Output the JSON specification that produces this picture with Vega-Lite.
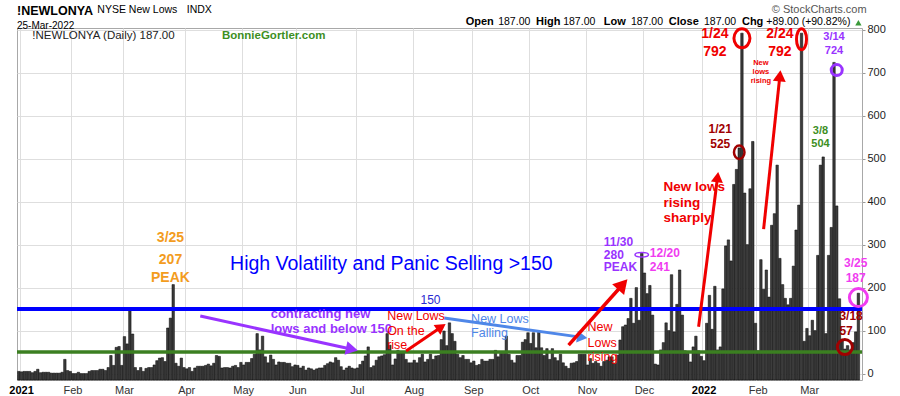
{
"$schema": "https://vega.github.io/schema/vega-lite/v6.json",
"width": 845, "height": 352,
"autosize": {"type": "none"},
"padding": {"left": 17, "top": 28, "right": 38, "bottom": 16},
"background": "white",
"config": {"font": "Liberation Sans", "view": {"stroke": "#a8a8a8", "strokeWidth": 1}},
"title": {"text": "!NEWLONYA", "subtitle": "25-Mar-2022", "anchor": "start", "frame": "group", "fontSize": 12.5, "fontWeight": "bold", "color": "#000", "subtitleFontSize": 10, "subtitleColor": "#000", "subtitlePadding": 3, "offset": -27, "font": "Liberation Sans", "subtitleFont": "Liberation Sans"},
"layer": [
{"data": {"values": [
{"d":"2020-12-31","v":5},
{"d":"2021-01-04","v":4},{"d":"2021-01-05","v":5},{"d":"2021-01-06","v":5},{"d":"2021-01-07","v":5},{"d":"2021-01-08","v":2},{"d":"2021-01-11","v":5},{"d":"2021-01-12","v":10},{"d":"2021-01-13","v":2},{"d":"2021-01-14","v":3},{"d":"2021-01-15","v":3},{"d":"2021-01-19","v":3},{"d":"2021-01-20","v":1},{"d":"2021-01-21","v":1},{"d":"2021-01-22","v":1},{"d":"2021-01-25","v":1},{"d":"2021-01-26","v":3},{"d":"2021-01-27","v":33},{"d":"2021-01-28","v":7},{"d":"2021-01-29","v":5},
{"d":"2021-02-01","v":0},{"d":"2021-02-02","v":0},{"d":"2021-02-03","v":3},{"d":"2021-02-04","v":0},{"d":"2021-02-05","v":0},{"d":"2021-02-08","v":0},{"d":"2021-02-09","v":5},{"d":"2021-02-10","v":7},{"d":"2021-02-11","v":7},{"d":"2021-02-12","v":7},{"d":"2021-02-16","v":10},{"d":"2021-02-17","v":10},{"d":"2021-02-18","v":7},{"d":"2021-02-19","v":14},{"d":"2021-02-22","v":42},{"d":"2021-02-23","v":19},{"d":"2021-02-24","v":61},{"d":"2021-02-25","v":63},{"d":"2021-02-26","v":19},
{"d":"2021-03-01","v":86},{"d":"2021-03-02","v":69},{"d":"2021-03-03","v":148},{"d":"2021-03-04","v":92},{"d":"2021-03-05","v":14},{"d":"2021-03-08","v":7},{"d":"2021-03-09","v":14},{"d":"2021-03-10","v":5},{"d":"2021-03-11","v":12},{"d":"2021-03-12","v":14},{"d":"2021-03-15","v":14},{"d":"2021-03-16","v":20},{"d":"2021-03-17","v":30},{"d":"2021-03-18","v":36},{"d":"2021-03-19","v":37},{"d":"2021-03-22","v":28},{"d":"2021-03-23","v":106},{"d":"2021-03-24","v":129},{"d":"2021-03-25","v":207},{"d":"2021-03-26","v":24},{"d":"2021-03-29","v":17},{"d":"2021-03-30","v":36},{"d":"2021-03-31","v":14},
{"d":"2021-04-01","v":11},{"d":"2021-04-05","v":14},{"d":"2021-04-06","v":5},{"d":"2021-04-07","v":13},{"d":"2021-04-08","v":17},{"d":"2021-04-09","v":17},{"d":"2021-04-12","v":17},{"d":"2021-04-13","v":19},{"d":"2021-04-14","v":22},{"d":"2021-04-15","v":18},{"d":"2021-04-16","v":24},{"d":"2021-04-19","v":42},{"d":"2021-04-20","v":40},{"d":"2021-04-21","v":13},{"d":"2021-04-22","v":14},{"d":"2021-04-23","v":14},{"d":"2021-04-26","v":13},{"d":"2021-04-27","v":17},{"d":"2021-04-28","v":19},{"d":"2021-04-29","v":14},{"d":"2021-04-30","v":26},
{"d":"2021-05-03","v":20},{"d":"2021-05-04","v":26},{"d":"2021-05-05","v":26},{"d":"2021-05-06","v":35},{"d":"2021-05-07","v":45},{"d":"2021-05-10","v":93},{"d":"2021-05-11","v":55},{"d":"2021-05-12","v":87},{"d":"2021-05-13","v":39},{"d":"2021-05-14","v":25},{"d":"2021-05-17","v":43},{"d":"2021-05-18","v":33},{"d":"2021-05-19","v":20},{"d":"2021-05-20","v":27},{"d":"2021-05-21","v":26},{"d":"2021-05-24","v":26},{"d":"2021-05-25","v":24},{"d":"2021-05-26","v":24},{"d":"2021-05-27","v":16},{"d":"2021-05-28","v":20},
{"d":"2021-06-01","v":19},{"d":"2021-06-02","v":13},{"d":"2021-06-03","v":17},{"d":"2021-06-04","v":8},{"d":"2021-06-07","v":13},{"d":"2021-06-08","v":11},{"d":"2021-06-09","v":8},{"d":"2021-06-10","v":11},{"d":"2021-06-11","v":13},{"d":"2021-06-14","v":13},{"d":"2021-06-15","v":19},{"d":"2021-06-16","v":23},{"d":"2021-06-17","v":27},{"d":"2021-06-18","v":25},{"d":"2021-06-21","v":37},{"d":"2021-06-22","v":31},{"d":"2021-06-23","v":16},{"d":"2021-06-24","v":8},{"d":"2021-06-25","v":13},{"d":"2021-06-28","v":17},{"d":"2021-06-29","v":13},{"d":"2021-06-30","v":11},
{"d":"2021-07-01","v":13},{"d":"2021-07-02","v":21},{"d":"2021-07-06","v":29},{"d":"2021-07-07","v":41},{"d":"2021-07-08","v":62},{"d":"2021-07-09","v":14},{"d":"2021-07-12","v":18},{"d":"2021-07-13","v":31},{"d":"2021-07-14","v":39},{"d":"2021-07-15","v":41},{"d":"2021-07-16","v":44},{"d":"2021-07-19","v":93},{"d":"2021-07-20","v":66},{"d":"2021-07-21","v":20},{"d":"2021-07-22","v":34},{"d":"2021-07-23","v":54},{"d":"2021-07-26","v":48},{"d":"2021-07-27","v":48},{"d":"2021-07-28","v":33},{"d":"2021-07-29","v":25},{"d":"2021-07-30","v":25},
{"d":"2021-08-02","v":31},{"d":"2021-08-03","v":25},{"d":"2021-08-04","v":37},{"d":"2021-08-05","v":45},{"d":"2021-08-06","v":27},{"d":"2021-08-09","v":33},{"d":"2021-08-10","v":45},{"d":"2021-08-11","v":33},{"d":"2021-08-12","v":41},{"d":"2021-08-13","v":42},{"d":"2021-08-16","v":79},{"d":"2021-08-17","v":99},{"d":"2021-08-18","v":65},{"d":"2021-08-19","v":118},{"d":"2021-08-20","v":93},{"d":"2021-08-23","v":75},{"d":"2021-08-24","v":45},{"d":"2021-08-25","v":37},{"d":"2021-08-26","v":42},{"d":"2021-08-27","v":33},{"d":"2021-08-30","v":33},{"d":"2021-08-31","v":25},
{"d":"2021-09-01","v":29},{"d":"2021-09-02","v":19},{"d":"2021-09-03","v":21},{"d":"2021-09-07","v":33},{"d":"2021-09-08","v":29},{"d":"2021-09-09","v":29},{"d":"2021-09-10","v":33},{"d":"2021-09-13","v":33},{"d":"2021-09-14","v":54},{"d":"2021-09-15","v":39},{"d":"2021-09-16","v":47},{"d":"2021-09-17","v":47},{"d":"2021-09-20","v":87},{"d":"2021-09-21","v":45},{"d":"2021-09-22","v":31},{"d":"2021-09-23","v":25},{"d":"2021-09-24","v":42},{"d":"2021-09-27","v":42},{"d":"2021-09-28","v":73},{"d":"2021-09-29","v":79},{"d":"2021-09-30","v":95},
{"d":"2021-10-01","v":70},{"d":"2021-10-04","v":95},{"d":"2021-10-05","v":60},{"d":"2021-10-06","v":96},{"d":"2021-10-07","v":60},{"d":"2021-10-08","v":42},{"d":"2021-10-11","v":58},{"d":"2021-10-12","v":33},{"d":"2021-10-13","v":58},{"d":"2021-10-14","v":37},{"d":"2021-10-15","v":30},{"d":"2021-10-18","v":45},{"d":"2021-10-19","v":25},{"d":"2021-10-20","v":17},{"d":"2021-10-21","v":12},{"d":"2021-10-22","v":24},{"d":"2021-10-25","v":25},{"d":"2021-10-26","v":28},{"d":"2021-10-27","v":45},{"d":"2021-10-28","v":45},{"d":"2021-10-29","v":45},
{"d":"2021-11-01","v":20},{"d":"2021-11-02","v":35},{"d":"2021-11-03","v":24},{"d":"2021-11-04","v":28},{"d":"2021-11-05","v":24},{"d":"2021-11-08","v":17},{"d":"2021-11-09","v":28},{"d":"2021-11-10","v":31},{"d":"2021-11-11","v":39},{"d":"2021-11-12","v":39},{"d":"2021-11-15","v":24},{"d":"2021-11-16","v":43},{"d":"2021-11-17","v":78},{"d":"2021-11-18","v":109},{"d":"2021-11-19","v":113},{"d":"2021-11-22","v":128},{"d":"2021-11-23","v":175},{"d":"2021-11-24","v":117},{"d":"2021-11-26","v":200},{"d":"2021-11-29","v":124},{"d":"2021-11-30","v":280},
{"d":"2021-12-01","v":234},{"d":"2021-12-02","v":186},{"d":"2021-12-03","v":205},{"d":"2021-12-06","v":136},{"d":"2021-12-07","v":22},{"d":"2021-12-08","v":20},{"d":"2021-12-09","v":55},{"d":"2021-12-10","v":72},{"d":"2021-12-13","v":118},{"d":"2021-12-14","v":100},{"d":"2021-12-15","v":230},{"d":"2021-12-16","v":97},{"d":"2021-12-17","v":161},{"d":"2021-12-20","v":241},{"d":"2021-12-21","v":136},{"d":"2021-12-22","v":53},{"d":"2021-12-23","v":47},{"d":"2021-12-27","v":27},{"d":"2021-12-28","v":62},{"d":"2021-12-29","v":87},{"d":"2021-12-30","v":53},{"d":"2021-12-31","v":40},
{"d":"2022-01-03","v":30},{"d":"2022-01-04","v":117},{"d":"2022-01-05","v":182},{"d":"2022-01-06","v":103},{"d":"2022-01-07","v":203},{"d":"2022-01-10","v":55},{"d":"2022-01-11","v":62},{"d":"2022-01-12","v":197},{"d":"2022-01-13","v":297},{"d":"2022-01-14","v":311},{"d":"2022-01-18","v":262},{"d":"2022-01-19","v":440},{"d":"2022-01-20","v":475},{"d":"2022-01-21","v":525},{"d":"2022-01-24","v":792},{"d":"2022-01-25","v":420},{"d":"2022-01-26","v":300},{"d":"2022-01-27","v":430},{"d":"2022-01-28","v":540},{"d":"2022-01-31","v":117},
{"d":"2022-02-01","v":53},{"d":"2022-02-02","v":265},{"d":"2022-02-03","v":196},{"d":"2022-02-04","v":241},{"d":"2022-02-07","v":178},{"d":"2022-02-08","v":345},{"d":"2022-02-09","v":372},{"d":"2022-02-10","v":485},{"d":"2022-02-11","v":268},{"d":"2022-02-14","v":207},{"d":"2022-02-15","v":175},{"d":"2022-02-16","v":160},{"d":"2022-02-17","v":175},{"d":"2022-02-18","v":250},{"d":"2022-02-22","v":334},{"d":"2022-02-23","v":392},{"d":"2022-02-24","v":792},{"d":"2022-02-25","v":75},{"d":"2022-02-28","v":105},
{"d":"2022-03-01","v":88},{"d":"2022-03-02","v":124},{"d":"2022-03-03","v":100},{"d":"2022-03-04","v":275},{"d":"2022-03-07","v":485},{"d":"2022-03-08","v":504},{"d":"2022-03-09","v":93},{"d":"2022-03-10","v":275},{"d":"2022-03-11","v":340},{"d":"2022-03-14","v":724},{"d":"2022-03-15","v":390},{"d":"2022-03-16","v":174},{"d":"2022-03-17","v":80},{"d":"2022-03-18","v":57},{"d":"2022-03-21","v":65},{"d":"2022-03-22","v":55},{"d":"2022-03-23","v":72},{"d":"2022-03-24","v":97},{"d":"2022-03-25","v":187}
]},
"mark": {"type": "bar", "fill": "#3c3c3c", "stroke": "#000", "strokeWidth": 0.5},
"encoding": {
"x": {"field": "d", "type": "ordinal", "scale": {"paddingInner": 0.1, "paddingOuter": 0.55, "align": 0.2},
 "axis": {"values": ["2021-01-04","2021-02-01","2021-03-01","2021-04-01","2021-05-03","2021-06-01","2021-07-01","2021-08-02","2021-09-01","2021-10-01","2021-11-01","2021-12-01","2022-01-03","2022-02-01","2022-03-01"],
  "labelExpr": "slice(datum.value,5,7)=='01' ? slice(datum.value,0,4) : utcFormat(toDate(datum.value),'%b')",
  "bandPosition": 0, "grid": true, "gridColor": "#dedede", "ticks": false, "tickSize": 0, "domain": false, "labelAngle": 0, "labelFontSize": 11, "labelPadding": 4, "labelOverlap": false,
  "labelColor": {"condition": {"test": "slice(datum.value,5,7)=='01'", "value": "#000"}, "value": "#333"},
  "labelFontWeight": {"condition": {"test": "slice(datum.value,5,7)=='01'", "value": "bold"}, "value": "normal"},
  "title": null}},
"y": {"field": "v", "type": "quantitative", "scale": {"domain": [-15, 804], "nice": false, "zero": false},
 "axis": {"orient": "right", "values": [0,50,100,150,200,250,300,350,400,450,500,550,600,650,700,750,800], "grid": true, "gridColor": "#dedede", "tickSize": 3, "tickColor": "#999", "domain": false, "labelFontSize": 11, "labelColor": "#222", "labelPadding": 2, "title": null}},
"y2": {"datum": -15}
}},
{"data": {"values": [{"y": 150}]}, "mark": {"type": "rule", "color": "#0000ff", "strokeWidth": 4}, "encoding": {"y": {"field": "y", "type": "quantitative"}}},
{"data": {"values": [{"y": 50}]}, "mark": {"type": "rule", "color": "#3b7f21", "strokeWidth": 3.5}, "encoding": {"y": {"field": "y", "type": "quantitative"}}},
{"data": {"values": [{"d1": "2021-04-09", "v1": 133.7, "d2": "2021-06-29", "v2": 56.5}]}, "layer": [
 {"mark": {"type": "rule", "color": "#9933ff", "strokeWidth": 3}, "encoding": {"x": {"field": "d1", "type": "ordinal"}, "y": {"field": "v1", "type": "quantitative"}, "x2": {"field": "d2"}, "y2": {"field": "v2"}}},
 {"mark": {"type": "point", "shape": "triangle-up", "filled": true, "color": "#9933ff", "opacity": 1, "size": 196, "angle": 102}, "encoding": {"x": {"field": "d2", "type": "ordinal"}, "y": {"field": "v2", "type": "quantitative"}}}]},
{"data": {"values": [{"d1": "2021-07-28", "v1": 52.3, "d2": "2021-08-16", "v2": 108.4}]}, "layer": [
 {"mark": {"type": "rule", "color": "#f00000", "strokeWidth": 3}, "encoding": {"x": {"field": "d1", "type": "ordinal"}, "y": {"field": "v1", "type": "quantitative"}, "x2": {"field": "d2"}, "y2": {"field": "v2"}}},
 {"mark": {"type": "point", "shape": "triangle-up", "filled": true, "color": "#f00000", "opacity": 1, "size": 144, "angle": 56}, "encoding": {"x": {"field": "d2", "type": "ordinal"}, "y": {"field": "v2", "type": "quantitative"}}}]},
{"data": {"values": [{"d1": "2021-08-17", "v1": 129, "d2": "2021-10-28", "v2": 84.2}]}, "layer": [
 {"mark": {"type": "rule", "color": "#4f87e8", "strokeWidth": 3}, "encoding": {"x": {"field": "d1", "type": "ordinal"}, "y": {"field": "v1", "type": "quantitative"}, "x2": {"field": "d2"}, "y2": {"field": "v2"}}},
 {"mark": {"type": "point", "shape": "triangle-up", "filled": true, "color": "#4f87e8", "opacity": 1, "size": 144, "angle": 98}, "encoding": {"x": {"field": "d2", "type": "ordinal"}, "y": {"field": "v2", "type": "quantitative"}}}]},
{"data": {"values": [{"d1": "2021-10-21", "v1": 66.3, "d2": "2021-11-18", "v2": 207.2}]}, "layer": [
 {"mark": {"type": "rule", "color": "#f00000", "strokeWidth": 3.5}, "encoding": {"x": {"field": "d1", "type": "ordinal"}, "y": {"field": "v1", "type": "quantitative"}, "x2": {"field": "d2"}, "y2": {"field": "v2"}}},
 {"mark": {"type": "point", "shape": "triangle-up", "filled": true, "color": "#f00000", "opacity": 1, "size": 256, "angle": 42}, "encoding": {"x": {"field": "d2", "type": "ordinal"}, "y": {"field": "v2", "type": "quantitative"}}}]},
{"data": {"values": [{"d1": "2021-12-30", "v1": 108.8, "d2": "2022-01-10", "v2": 457.2}]}, "layer": [
 {"mark": {"type": "rule", "color": "#f00000", "strokeWidth": 3}, "encoding": {"x": {"field": "d1", "type": "ordinal"}, "y": {"field": "v1", "type": "quantitative"}, "x2": {"field": "d2"}, "y2": {"field": "v2"}}},
 {"mark": {"type": "point", "shape": "triangle-up", "filled": true, "color": "#f00000", "opacity": 1, "size": 144, "angle": 7}, "encoding": {"x": {"field": "d2", "type": "ordinal"}, "y": {"field": "v2", "type": "quantitative"}}}]},
{"data": {"values": [{"d1": "2022-02-03", "v1": 336, "d2": "2022-02-11", "v2": 692.8}]}, "layer": [
 {"mark": {"type": "rule", "color": "#f00000", "strokeWidth": 3}, "encoding": {"x": {"field": "d1", "type": "ordinal"}, "y": {"field": "v1", "type": "quantitative"}, "x2": {"field": "d2"}, "y2": {"field": "v2"}}},
 {"mark": {"type": "point", "shape": "triangle-up", "filled": true, "color": "#f00000", "opacity": 1, "size": 169, "angle": 6}, "encoding": {"x": {"field": "d2", "type": "ordinal"}, "y": {"field": "v2", "type": "quantitative"}}}]},
{"data": {"values": [{"d": "2021-11-30", "v": 276.7}]}, "mark": {"type": "point", "filled": false, "opacity": 1, "color": "#9933ff", "strokeWidth": 1.5, "size": 182, "shape": "M-1,0A1,0.333,0,1,0,1,0A1,0.333,0,1,0,-1,0Z"}, "encoding": {"x": {"field": "d", "type": "ordinal"}, "y": {"field": "v", "type": "quantitative"}}},
{"data": {"values": [{"d": "2022-01-21", "v": 515}]}, "mark": {"type": "point", "filled": false, "opacity": 1, "color": "#a00000", "strokeWidth": 2.5, "size": 182, "shape": "M0,-1A0.778,1,0,1,0,0,1A0.778,1,0,1,0,0,-1Z"}, "encoding": {"x": {"field": "d", "type": "ordinal"}, "y": {"field": "v", "type": "quantitative"}}},
{"data": {"values": [{"d": "2022-01-24", "v": 780}]}, "mark": {"type": "point", "filled": false, "opacity": 1, "color": "#f00000", "strokeWidth": 3, "size": 361, "shape": "M0,-1A0.842,1,0,1,0,0,1A0.842,1,0,1,0,0,-1Z"}, "encoding": {"x": {"field": "d", "type": "ordinal"}, "y": {"field": "v", "type": "quantitative"}}},
{"data": {"values": [{"d": "2022-02-24", "v": 778}]}, "mark": {"type": "point", "filled": false, "opacity": 1, "color": "#f00000", "strokeWidth": 3, "size": 441, "shape": "M0,-1A0.476,1,0,1,0,0,1A0.476,1,0,1,0,0,-1Z"}, "encoding": {"x": {"field": "d", "type": "ordinal"}, "y": {"field": "v", "type": "quantitative"}}},
{"data": {"values": [{"d": "2022-03-15", "v": 706}]}, "mark": {"type": "point", "filled": false, "opacity": 1, "color": "#9933ff", "strokeWidth": 3, "size": 121, "shape": "circle"}, "encoding": {"x": {"field": "d", "type": "ordinal"}, "y": {"field": "v", "type": "quantitative"}}},
{"data": {"values": [{"d": "2022-03-25", "v": 176.7}]}, "mark": {"type": "point", "filled": false, "opacity": 1, "color": "#f03cf0", "strokeWidth": 3, "size": 324, "shape": "circle", "dx": 3}, "encoding": {"x": {"field": "d", "type": "ordinal"}, "y": {"field": "v", "type": "quantitative"}}},
{"data": {"values": [{"d": "2022-03-18", "v": 61.6}]}, "mark": {"type": "point", "filled": false, "opacity": 1, "color": "#a00000", "strokeWidth": 3, "size": 225, "shape": "circle"}, "encoding": {"x": {"field": "d", "type": "ordinal"}, "y": {"field": "v", "type": "quantitative"}}},
{"data": {"values": [{"d": "2021-03-24", "v": 315, "t": "3/25"}, {"d": "2021-03-24", "v": 265, "t": "207"}, {"d": "2021-03-24", "v": 222, "t": "PEAK"}]},
 "mark": {"type": "text", "align": "center", "baseline": "middle", "fontSize": 14, "fontWeight": "bold", "color": "#f39c1e"},
 "encoding": {"x": {"field": "d", "type": "ordinal"}, "y": {"field": "v", "type": "quantitative"}, "text": {"field": "t"}}},
{"data": {"values": [{"d": "2021-04-26", "v": 255, "t": "High Volatility and Panic Selling >150"}]},
 "mark": {"type": "text", "align": "left", "baseline": "middle", "fontSize": 19.5, "color": "#0000ff"},
 "encoding": {"x": {"field": "d", "type": "ordinal"}, "y": {"field": "v", "type": "quantitative"}, "text": {"field": "t"}}},
{"data": {"values": [{"d": "2021-08-10", "v": 171, "t": "150"}]},
 "mark": {"type": "text", "align": "center", "baseline": "middle", "fontSize": 12, "color": "#2a2ad0"},
 "encoding": {"x": {"field": "d", "type": "ordinal"}, "y": {"field": "v", "type": "quantitative"}, "text": {"field": "t"}}},
{"data": {"values": [{"d": "2021-05-17", "v": 139, "t": "contracting new"}, {"d": "2021-05-17", "v": 104, "t": "lows and below 150"}]},
 "mark": {"type": "text", "align": "left", "baseline": "middle", "fontSize": 13, "fontWeight": "bold", "color": "#9933ff"},
 "encoding": {"x": {"field": "d", "type": "ordinal"}, "y": {"field": "v", "type": "quantitative"}, "text": {"field": "t"}}},
{"data": {"values": [{"d": "2021-07-19", "v": 133, "t": "New Lows"}, {"d": "2021-07-19", "v": 99, "t": "On the"}, {"d": "2021-07-19", "v": 66, "t": "rise"}, {"d": "2021-11-01", "v": 108, "t": "New"}, {"d": "2021-11-01", "v": 71, "t": "Lows"}, {"d": "2021-11-01", "v": 38, "t": "rising"}]},
 "mark": {"type": "text", "align": "left", "baseline": "middle", "fontSize": 12.5, "color": "#f00000"},
 "encoding": {"x": {"field": "d", "type": "ordinal"}, "y": {"field": "v", "type": "quantitative"}, "text": {"field": "t"}}},
{"data": {"values": [{"d": "2021-08-31", "v": 128, "t": "New Lows"}, {"d": "2021-08-31", "v": 94, "t": "Falling"}]},
 "mark": {"type": "text", "align": "left", "baseline": "middle", "fontSize": 12.5, "color": "#4f87e8"},
 "encoding": {"x": {"field": "d", "type": "ordinal"}, "y": {"field": "v", "type": "quantitative"}, "text": {"field": "t"}}},
{"data": {"values": [{"d": "2021-11-09", "v": 307, "t": "11/30"}, {"d": "2021-11-09", "v": 275, "t": "280"}, {"d": "2021-11-09", "v": 247, "t": "PEAK"}]},
 "mark": {"type": "text", "align": "left", "baseline": "middle", "fontSize": 12, "fontWeight": "bold", "color": "#9933ff"},
 "encoding": {"x": {"field": "d", "type": "ordinal"}, "y": {"field": "v", "type": "quantitative"}, "text": {"field": "t"}}},
{"data": {"values": [{"d": "2021-12-03", "v": 280.7, "t": "12/20"}, {"d": "2021-12-03", "v": 247, "t": "241"}]},
 "mark": {"type": "text", "align": "left", "baseline": "middle", "fontSize": 12, "fontWeight": "bold", "color": "#f03cf0"},
 "encoding": {"x": {"field": "d", "type": "ordinal"}, "y": {"field": "v", "type": "quantitative"}, "text": {"field": "t"}}},
{"data": {"values": [{"d": "2021-12-10", "v": 433, "t": "New lows"}, {"d": "2021-12-10", "v": 396, "t": "rising"}, {"d": "2021-12-10", "v": 361, "t": "sharply"}]},
 "mark": {"type": "text", "align": "left", "baseline": "middle", "fontSize": 13.5, "fontWeight": "bold", "color": "#f00000"},
 "encoding": {"x": {"field": "d", "type": "ordinal"}, "y": {"field": "v", "type": "quantitative"}, "text": {"field": "t"}}},
{"data": {"values": [{"d": "2022-01-11", "v": 569, "t": "1/21"}, {"d": "2022-01-11", "v": 534, "t": "525"}]},
 "mark": {"type": "text", "align": "center", "baseline": "middle", "fontSize": 12, "fontWeight": "bold", "color": "#a00000"},
 "encoding": {"x": {"field": "d", "type": "ordinal"}, "y": {"field": "v", "type": "quantitative"}, "text": {"field": "t"}}},
{"data": {"values": [{"d": "2022-01-07", "v": 789, "t": "1/24"}, {"d": "2022-01-07", "v": 749, "t": "792"}, {"d": "2022-02-11", "v": 789, "t": "2/24"}, {"d": "2022-02-11", "v": 749, "t": "792"}]},
 "mark": {"type": "text", "align": "center", "baseline": "middle", "fontSize": 14, "fontWeight": "bold", "color": "#f00000"},
 "encoding": {"x": {"field": "d", "type": "ordinal"}, "y": {"field": "v", "type": "quantitative"}, "text": {"field": "t"}}},
{"data": {"values": [{"d": "2022-02-02", "v": 722, "t": "New"}, {"d": "2022-02-02", "v": 701, "t": "lows"}, {"d": "2022-02-02", "v": 680, "t": "rising"}]},
 "mark": {"type": "text", "align": "center", "baseline": "middle", "fontSize": 7.5, "fontWeight": "bold", "color": "#f00000"},
 "encoding": {"x": {"field": "d", "type": "ordinal"}, "y": {"field": "v", "type": "quantitative"}, "text": {"field": "t"}}},
{"data": {"values": [{"d": "2022-03-14", "v": 783, "t": "3/14"}, {"d": "2022-03-14", "v": 750.7, "t": "724"}]},
 "mark": {"type": "text", "align": "center", "baseline": "middle", "fontSize": 11, "fontWeight": "bold", "color": "#9933ff"},
 "encoding": {"x": {"field": "d", "type": "ordinal"}, "y": {"field": "v", "type": "quantitative"}, "text": {"field": "t"}}},
{"data": {"values": [{"d": "2022-03-07", "v": 565, "t": "3/8"}, {"d": "2022-03-07", "v": 533, "t": "504"}]},
 "mark": {"type": "text", "align": "center", "baseline": "middle", "fontSize": 11, "fontWeight": "bold", "color": "#3d8f1f"},
 "encoding": {"x": {"field": "d", "type": "ordinal"}, "y": {"field": "v", "type": "quantitative"}, "text": {"field": "t"}}},
{"data": {"values": [{"d": "2022-03-24", "v": 258, "t": "3/25"}, {"d": "2022-03-24", "v": 223, "t": "187"}]},
 "mark": {"type": "text", "align": "center", "baseline": "middle", "fontSize": 12, "fontWeight": "bold", "color": "#f03cf0"},
 "encoding": {"x": {"field": "d", "type": "ordinal"}, "y": {"field": "v", "type": "quantitative"}, "text": {"field": "t"}}},
{"data": {"values": [{"d": "2022-03-16", "v": 133, "t": "3/18"}, {"d": "2022-03-16", "v": 99.3, "t": "57"}]},
 "mark": {"type": "text", "align": "left", "baseline": "middle", "fontSize": 12, "fontWeight": "bold", "color": "#a00000"},
 "encoding": {"x": {"field": "d", "type": "ordinal"}, "y": {"field": "v", "type": "quantitative"}, "text": {"field": "t"}}},
{"data": {"values": [{"d": "2021-04-21", "v": 785.6, "t": "BonnieGortler.com"}]},
 "mark": {"type": "text", "align": "left", "baseline": "middle", "fontSize": 11.5, "fontWeight": "bold", "color": "#3d8f1f"},
 "encoding": {"x": {"field": "d", "type": "ordinal"}, "y": {"field": "v", "type": "quantitative"}, "text": {"field": "t"}}},
{"data": {"values": [{"d": "2021-01-08", "v": 785.6, "t": "!NEWLONYA (Daily) 187.00"}]},
 "mark": {"type": "text", "align": "left", "baseline": "middle", "fontSize": 11.5, "color": "#222"},
 "encoding": {"x": {"field": "d", "type": "ordinal"}, "y": {"field": "v", "type": "quantitative"}, "text": {"field": "t"}}},
{"data": {"values": [{"d": "2021-02-12", "v": 847, "t": "NYSE New Lows"}, {"d": "2021-04-01", "v": 847, "t": "INDX"}]},
 "mark": {"type": "text", "align": "left", "baseline": "middle", "fontSize": 10.5, "color": "#000"},
 "encoding": {"x": {"field": "d", "type": "ordinal"}, "y": {"field": "v", "type": "quantitative"}, "text": {"field": "t"}}},
{"data": {"values": [{"d": "2022-02-08", "v": 847, "t": "© StockCharts.com"}]},
 "mark": {"type": "text", "align": "left", "baseline": "middle", "fontSize": 11, "color": "#555"},
 "encoding": {"x": {"field": "d", "type": "ordinal"}, "y": {"field": "v", "type": "quantitative"}, "text": {"field": "t"}}},
{"data": {"values": [{"d": "2021-08-27", "v": 818, "t": "Open"}, {"d": "2021-10-05", "v": 818, "t": "High"}, {"d": "2021-11-09", "v": 818, "t": "Low"}, {"d": "2021-12-14", "v": 818, "t": "Close"}, {"d": "2022-01-24", "v": 818, "t": "Chg"}]},
 "mark": {"type": "text", "align": "left", "baseline": "middle", "fontSize": 11, "fontWeight": "bold", "color": "#000"},
 "encoding": {"x": {"field": "d", "type": "ordinal"}, "y": {"field": "v", "type": "quantitative"}, "text": {"field": "t"}}},
{"data": {"values": [{"d": "2021-09-15", "v": 818, "t": "187.00"}, {"d": "2021-10-19", "v": 818, "t": "187.00"}, {"d": "2021-11-23", "v": 818, "t": "187.00"}, {"d": "2022-01-03", "v": 818, "t": "187.00"}, {"d": "2022-02-04", "v": 818, "t": "+89.00 (+90.82%)"}]},
 "mark": {"type": "text", "align": "left", "baseline": "middle", "fontSize": 10.5, "color": "#000"},
 "encoding": {"x": {"field": "d", "type": "ordinal"}, "y": {"field": "v", "type": "quantitative"}, "text": {"field": "t"}}},
{"data": {"values": [{"d": "2022-03-25", "v": 816}]},
 "mark": {"type": "point", "shape": "triangle-up", "filled": true, "opacity": 1, "color": "#3a9a3a", "size": 40},
 "encoding": {"x": {"field": "d", "type": "ordinal"}, "y": {"field": "v", "type": "quantitative"}}}
]
}
